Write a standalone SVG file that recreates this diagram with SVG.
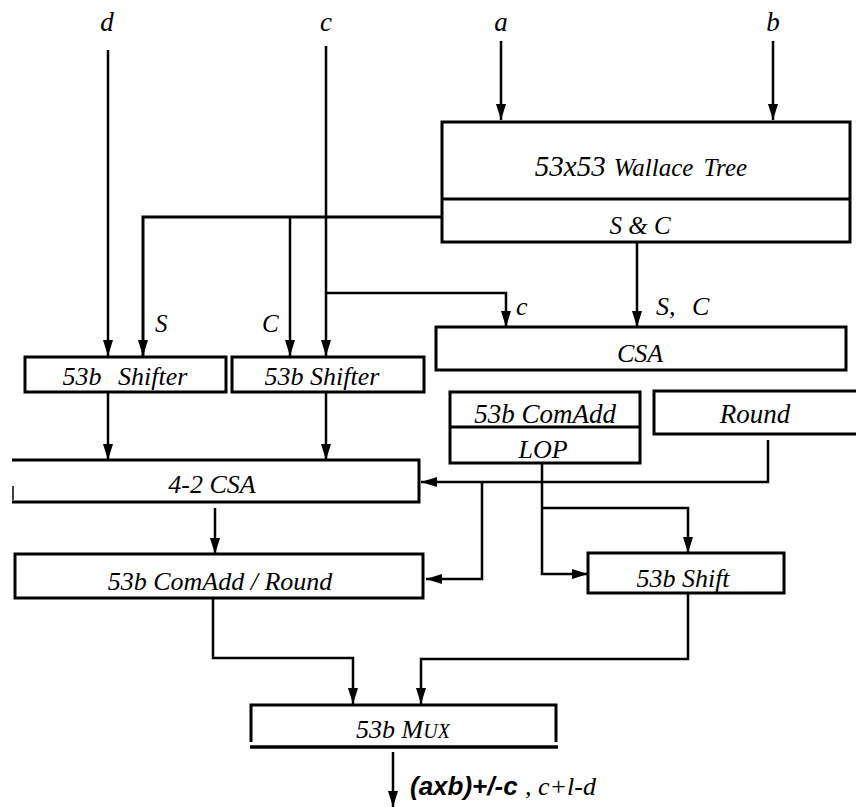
<svg xmlns="http://www.w3.org/2000/svg" width="856" height="807" viewBox="0 0 856 807">
<style>
.box{fill:#fff;stroke:#000;stroke-width:3}
.ln{fill:none;stroke:#000;stroke-width:2.5}
.t{font-family:"Liberation Serif",serif;font-style:italic;fill:#000}
.o{font-size:26px}
.s{font-size:25px}
.l{font-size:27px}
</style>
<defs>
<marker id="ah" markerUnits="userSpaceOnUse" markerWidth="16" markerHeight="10" refX="16" refY="5" orient="auto">
<path d="M0,0 L16,5 L0,10 z" fill="#000"/>
</marker>
</defs>
<g id="labels">
<text class="t l" x="107" y="31" text-anchor="middle">d</text>
<text class="t l" x="326" y="31" text-anchor="middle">c</text>
<text class="t l" x="501" y="31" text-anchor="middle">a</text>
<text class="t l" x="773" y="31" text-anchor="middle">b</text>
<text class="t s" x="155" y="332">S</text>
<text class="t s" x="262" y="332">C</text>
<text class="t o" x="516" y="315">c</text>
<text class="t o" x="656" y="315" word-spacing="10">S, C</text>
</g>
<g id="connectors" class="ln">
<path class="ln" d="M108,50 V356" marker-end="url(#ah)"/>
<path class="ln" d="M326,46 V356" marker-end="url(#ah)"/>
<path class="ln" d="M326,293 H506 V327" marker-end="url(#ah)"/>
<path class="ln" d="M501,41 V120" marker-end="url(#ah)"/>
<path class="ln" d="M773,41 V120" marker-end="url(#ah)"/>
<path class="ln" d="M442,217 H143 V356" marker-end="url(#ah)" style="stroke-width:3"/>
<path class="ln" d="M290,217 V356" marker-end="url(#ah)"/>
<path class="ln" d="M637,243 V327" marker-end="url(#ah)"/>
<path class="ln" d="M108,392 V460" marker-end="url(#ah)"/>
<path class="ln" d="M326,392 V460" marker-end="url(#ah)"/>
<path class="ln" d="M768,440 V482 H421" marker-end="url(#ah)"/>
<path class="ln" d="M482,482 V579 H426" marker-end="url(#ah)"/>
<path class="ln" d="M215,508 V554" marker-end="url(#ah)"/>
<path class="ln" d="M542,463 V574 H588" marker-end="url(#ah)"/>
<path class="ln" d="M542,508 H688 V553" marker-end="url(#ah)"/>
<path class="ln" d="M688,593 V659 H421 V704" marker-end="url(#ah)"/>
<path class="ln" d="M213,598 V658 H353 V704" marker-end="url(#ah)"/>
<path class="ln" d="M393,752 V807" marker-end="url(#ah)"/>
</g>
<g id="wallace">
<rect class="box" x="442" y="122" width="408" height="120"/>
<line x1="442" y1="199" x2="850" y2="199" stroke="#000" stroke-width="3"/>
<text class="t" x="641" y="176" text-anchor="middle"><tspan font-size="29">53x53</tspan><tspan font-size="25" dx="8" word-spacing="4">Wallace Tree</tspan></text>
<text class="t s" x="640" y="234" text-anchor="middle">S &amp; C</text>
</g>
<g id="csa">
<rect class="box" x="436" y="327" width="410" height="43"/>
<text class="t o" x="640" y="362" text-anchor="middle">CSA</text>
</g>
<g id="shifter1">
<rect class="box" x="25" y="357" width="201" height="35"/>
<text class="t o" x="125" y="385" text-anchor="middle" word-spacing="10">53b Shifter</text>
</g>
<g id="shifter2">
<rect class="box" x="232" y="357" width="192" height="35"/>
<text class="t o" x="322" y="385" text-anchor="middle">53b Shifter</text>
</g>
<g id="comadd-lop">
<rect class="box" x="450" y="392" width="190" height="71"/>
<line x1="450" y1="427" x2="640" y2="427" stroke="#000" stroke-width="3"/>
<text class="t" x="545" y="423" text-anchor="middle" font-size="27">53b ComAdd</text>
<text class="t o" x="543" y="458" text-anchor="middle">LOP</text>
</g>
<g id="round">
<path d="M858,391 H654 V434 H858" fill="#fff" stroke="#000" stroke-width="3"/>
<text class="t" x="755" y="423" text-anchor="middle" font-size="27">Round</text>
</g>
<g id="csa42">
<path d="M12,460 H419 V502 H12" fill="#fff" stroke="#000" stroke-width="3"/>
<line x1="13" y1="486" x2="13" y2="500" stroke="#000" stroke-width="1.5"/>
<text class="t o" x="212" y="493" text-anchor="middle">4-2 CSA</text>
</g>
<g id="comadd-round">
<rect class="box" x="15" y="554" width="408" height="44"/>
<text class="t o" x="220" y="590" text-anchor="middle">53b ComAdd / Round</text>
</g>
<g id="shift">
<rect class="box" x="588" y="553" width="196" height="40"/>
<text class="t o" x="683" y="587" text-anchor="middle">53b Shift</text>
</g>
<g id="mux">
<path d="M251,742 V705 H556 V742" fill="#fff" stroke="#000" stroke-width="3"/>
<line x1="250" y1="747" x2="558" y2="747" stroke="#000" stroke-width="3.5"/>
<text class="t" x="403" y="738" text-anchor="middle"><tspan font-size="26">53b M</tspan><tspan font-size="20">UX</tspan></text>
</g>
<g id="output">
<text x="410" y="795" style="font-family:'Liberation Sans',sans-serif;font-weight:bold;font-style:italic;font-size:26px">(axb)+/-c</text>
<text class="t" x="525" y="795" font-size="26">, c+l-d</text>
</g>
</svg>
